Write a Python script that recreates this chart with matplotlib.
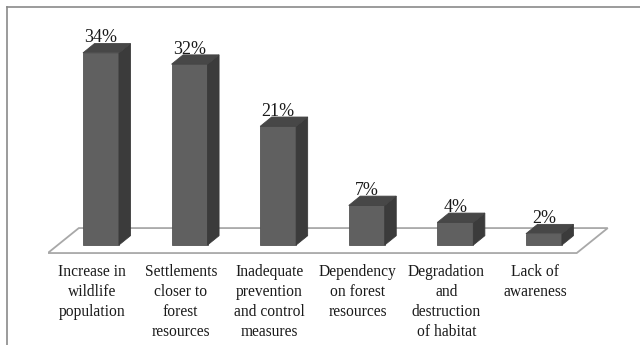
import matplotlib.pyplot as plt
from matplotlib.patches import Polygon
from matplotlib.lines import Line2D

categories = [
    "Increase in\nwildlife\npopulation",
    "Settlements\ncloser to\nforest\nresources",
    "Inadequate\nprevention\nand control\nmeasures",
    "Dependency\non forest\nresources",
    "Degradation\nand\ndestruction\nof habitat",
    "Lack of\nawareness",
]
values = [34, 32, 21, 7, 4, 2]
value_labels = ["34%", "32%", "21%", "7%", "4%", "2%"]

plt.rcParams['font.family'] = ['Liberation Serif', 'DejaVu Serif']

fig = plt.figure(figsize=(6.4, 3.45), dpi=100)
ax = fig.add_axes([0.0747, 0.2325, 0.8998, 0.6797])
ax.set_xlim(-0.6, 5.9)
ax.set_ylim(-3.5, 38)
ax.axis("off")

n = len(values)
width = 0.406
ddx, ddy = 0.13, 1.65      # bar depth offset
fdx, fdy = 0.35, 4.42      # floor depth offset

# floor
fx0, fx1, fy = -0.6, n - 0.63, -1.42
floor = Polygon([(fx0, fy), (fx1, fy), (fx1 + fdx, fy + fdy), (fx0 + fdx, fy + fdy)],
                closed=True, facecolor="white", edgecolor="#a8a8a8", lw=1.3)
ax.add_patch(floor)

front_c, top_c, side_c = "#606060", "#474747", "#3b3b3b"
for i, v in enumerate(values):
    x0, x1 = i - width / 2, i + width / 2
    front = Polygon([(x0, 0), (x1, 0), (x1, v), (x0, v)], closed=True,
                    facecolor=front_c, edgecolor="#555555", lw=0.6)
    top = Polygon([(x0, v), (x1, v), (x1 + ddx, v + ddy), (x0 + ddx, v + ddy)], closed=True,
                  facecolor=top_c, edgecolor="#444444", lw=0.6)
    side = Polygon([(x1, 0), (x1 + ddx, ddy), (x1 + ddx, v + ddy), (x1, v)], closed=True,
                   facecolor=side_c, edgecolor="#3a3a3a", lw=0.6)
    for p in (front, side, top):
        ax.add_patch(p)
    ax.text(i, v + ddy - 0.5, value_labels[i], ha="center", va="bottom",
            fontsize=13, color="#1a1a1a")
    ax.text(i - 0.1, -3.4, categories[i], ha="center", va="top", fontsize=11.2,
            color="#1a1a1a", linespacing=1.33, clip_on=False)

# outer frame (top and left)
fx = 7 / 640
fy_top = 1 - 7 / 345
fig.add_artist(Line2D([fx, 1], [fy_top, fy_top], color="#8a8a8a", lw=1.2))
fig.add_artist(Line2D([fx, fx], [0, fy_top], color="#8a8a8a", lw=1.2))

fig.savefig("out.png", dpi=100)
